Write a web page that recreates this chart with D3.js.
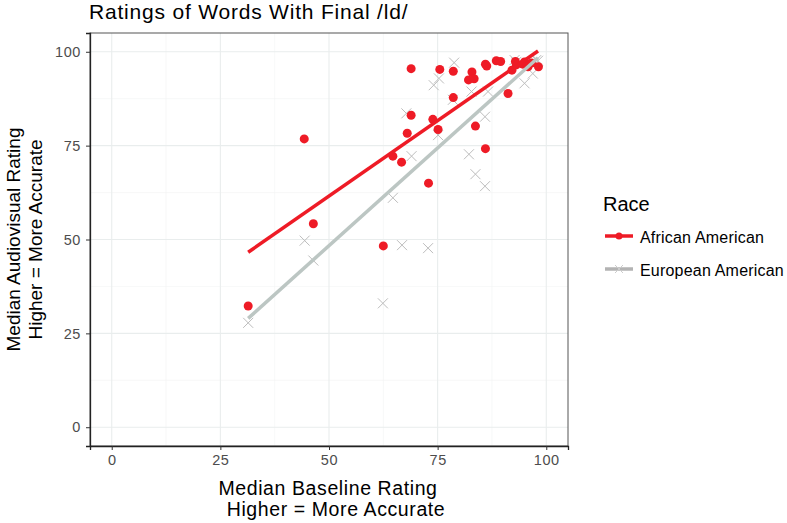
<!DOCTYPE html>
<html>
<head>
<meta charset="utf-8">
<script src="https://cdn.jsdelivr.net/npm/d3@7"></script>
<style>
  body { margin: 0; background: #fff; font-family: "Liberation Sans", Arial, sans-serif; }
  .tick text { font-family: "Liberation Sans", Arial, sans-serif; }
</style>
</head>
<body>
<div id="chart"></div>
<script>
// African American: [baseline, audiovisual]
const africanX = [31.4, 44.3, 46.4, 62.5, 64.7, 66.7, 68.0, 68.9, 68.9, 72.9, 73.9, 75.1, 75.5, 78.6, 78.6,
  82.1, 82.9, 83.4, 83.7, 86.0, 86.0, 86.3, 88.5, 89.5, 91.2, 92.1, 92.9, 93.1, 94.6, 95.0, 95.8, 96.6, 98.2];
const africanY = [32.3, 76.8, 54.2, 48.3, 72.2, 70.6, 78.3, 83.1, 95.5, 65.0, 82.0, 79.3, 95.3, 94.8, 87.8,
  92.5, 94.6, 92.8, 80.2, 74.2, 96.7, 96.2, 97.6, 97.4, 88.9, 95.1, 97.4, 96.5, 96.7, 97.3, 96.0, 97.0, 96.0];

// European American
const europeanX = [31.4, 44.4, 46.4, 62.4, 64.7, 66.8, 67.8, 69.0, 72.8, 75.1, 74.1, 75.3, 78.5, 78.8,
  82.2, 83.7, 85.9, 85.9, 82.8, 86.6, 92.7, 93.1, 95.0, 96.9, 97.7, 98.1];
const europeanY = [27.8, 49.7, 44.4, 33.0, 61.1, 48.5, 83.6, 72.2, 47.7, 77.8, 91.1, 92.9, 87.2, 97.1,
  72.7, 67.4, 64.2, 82.7, 89.4, 89.4, 97.8, 97.3, 91.6, 94.2, 97.8, 97.6];

// fitted lines: [x start, x end], [y start, y end]
const africanFitX = [31.4, 98.1];
const africanFitY = [46.6, 100.2];
const europeanFitX = [31.4, 98.1];
const europeanFitY = [29.0, 98.4];

const ticks = [0, 25, 50, 75, 100];
const minorTicks = [12.5, 37.5, 62.5, 87.5];

const width = 787, height = 523;
const margin = {top: 33, left: 90, right: 219, bottom: 77};
const redCol = "#ee1b26";
const grayPt = "#bdbdbd";
const grayLine = "#bcc6c3";

const svg = d3.select("#chart").append("svg")
  .attr("width", width)
  .attr("height", height);

const x = d3.scaleLinear().domain([-5, 105]).range([margin.left, width - margin.right]);
const y = d3.scaleLinear().domain([-5, 105]).range([height - margin.bottom, margin.top]);

// grid
const grid = svg.append("g");
grid.selectAll(".minx").data(minorTicks).enter().append("line")
  .attr("x1", d => x(d)).attr("x2", d => x(d))
  .attr("y1", y.range()[0]).attr("y2", y.range()[1])
  .attr("stroke", "#f2f4f4").attr("stroke-width", 0.6);
grid.selectAll(".miny").data(minorTicks).enter().append("line")
  .attr("y1", d => y(d)).attr("y2", d => y(d))
  .attr("x1", x.range()[0]).attr("x2", x.range()[1])
  .attr("stroke", "#f2f4f4").attr("stroke-width", 0.6);
grid.selectAll(".majx").data(ticks).enter().append("line")
  .attr("x1", d => x(d)).attr("x2", d => x(d))
  .attr("y1", y.range()[0]).attr("y2", y.range()[1])
  .attr("stroke", "#e9eded").attr("stroke-width", 1.1);
grid.selectAll(".majy").data(ticks).enter().append("line")
  .attr("y1", d => y(d)).attr("y2", d => y(d))
  .attr("x1", x.range()[0]).attr("x2", x.range()[1])
  .attr("stroke", "#e9eded").attr("stroke-width", 1.1);

// panel border
svg.append("rect")
  .attr("x", x.range()[0]).attr("y", y.range()[1])
  .attr("width", x.range()[1] - x.range()[0])
  .attr("height", y.range()[0] - y.range()[1])
  .attr("fill", "none").attr("stroke", "#555").attr("stroke-width", 1);

// european points (crosses)
const cs = 5;
svg.append("g").selectAll("path").data(europeanX).enter().append("path")
  .attr("d", (d, i) => {
    const px = x(d), py = y(europeanY[i]);
    return `M${px - cs},${py - cs}L${px + cs},${py + cs}M${px - cs},${py + cs}L${px + cs},${py - cs}`;
  })
  .attr("stroke", grayPt).attr("stroke-width", 1).attr("fill", "none");

// african points
svg.append("g").selectAll("circle").data(africanX).enter().append("circle")
  .attr("cx", d => x(d))
  .attr("cy", (d, i) => y(africanY[i]))
  .attr("r", 4.5)
  .attr("fill", redCol);

// fit lines
const line = d3.line().x(d => x(d[0])).y(d => y(d[1]));
svg.append("path")
  .attr("d", line(europeanFitX.map((d, i) => [d, europeanFitY[i]])))
  .attr("stroke", grayLine).attr("stroke-width", 3.5).attr("fill", "none");
svg.append("path")
  .attr("d", line(africanFitX.map((d, i) => [d, africanFitY[i]])))
  .attr("stroke", redCol).attr("stroke-width", 3.5).attr("fill", "none");

// axes
const xAxis = svg.append("g")
  .attr("transform", "translate(0," + y.range()[0] + ")")
  .call(d3.axisBottom(x).tickValues(ticks).tickSize(4).tickPadding(5));
const yAxis = svg.append("g")
  .attr("transform", "translate(" + x.range()[0] + ",0)")
  .call(d3.axisLeft(y).tickValues(ticks).tickSize(4).tickPadding(5));
[xAxis, yAxis].forEach(a => {
  a.select(".domain").attr("stroke", "#222").attr("stroke-width", 1.3);
  a.selectAll(".tick line").attr("stroke", "#333");
  a.selectAll(".tick text").attr("fill", "#4d4d4d").style("font-size", "14.5px")
    .style("letter-spacing", "0.6px");
});

// title
svg.append("text")
  .attr("x", 89).attr("y", 19)
  .style("font-size", "21px").style("letter-spacing", "0.8px").attr("fill", "#000")
  .text("Ratings of Words With Final /ld/");

// x title
svg.append("text").attr("x", 328).attr("y", 495)
  .attr("text-anchor", "middle").style("font-size", "19.5px").style("letter-spacing", "0.6px")
  .text("Median Baseline Rating");
svg.append("text").attr("x", 336).attr("y", 516)
  .attr("text-anchor", "middle").style("font-size", "19.5px").style("letter-spacing", "0.6px")
  .text("Higher = More Accurate");

// y title
const cy = (y.range()[0] + y.range()[1]) / 2;
svg.append("text")
  .attr("transform", `translate(20,${cy}) rotate(-90)`)
  .attr("text-anchor", "middle").style("font-size", "19px")
  .text("Median Audiovisual Rating");
svg.append("text")
  .attr("transform", `translate(42,${cy}) rotate(-90)`)
  .attr("text-anchor", "middle").style("font-size", "19px")
  .text("Higher = More Accurate");

// legend
const lg = svg.append("g").attr("transform", "translate(603,0)");
lg.append("text").attr("x", 0).attr("y", 211).style("font-size", "20px").text("Race");
const items = [
  {label: "African American", col: redCol, y: 236},
  {label: "European American", col: "#b3b3b3", y: 269}
];
items.forEach(it => {
  lg.append("line").attr("x1", 2).attr("x2", 30).attr("y1", it.y).attr("y2", it.y)
    .attr("stroke", it.col).attr("stroke-width", 3.5);
  lg.append("text").attr("x", 37).attr("y", it.y + 6.5).style("font-size", "16px")
    .style("letter-spacing", "0.2px").text(it.label);
});
lg.append("circle").attr("cx", 16).attr("cy", 236).attr("r", 3.5).attr("fill", redCol);
lg.append("path").attr("d", "M12,265L20,273M12,273L20,265")
  .attr("stroke", "#ccc").attr("stroke-width", 1);
</script>
</body>
</html>
